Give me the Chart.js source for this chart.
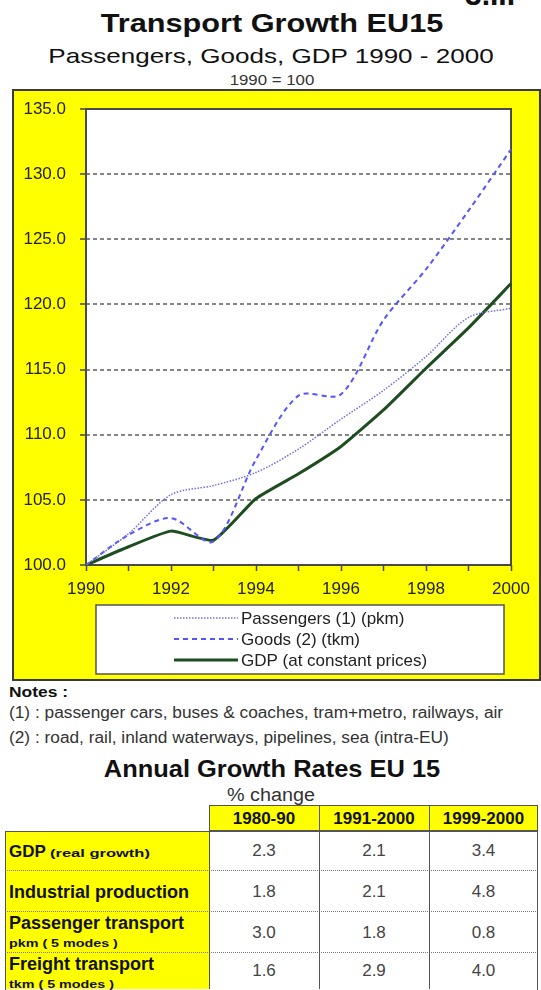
<!DOCTYPE html>
<html>
<head>
<meta charset="utf-8">
<script src="https://cdn.jsdelivr.net/npm/chart.js@4.4.1/dist/chart.umd.min.js"></script>
<style>
body { margin:0; width:541px; height:990px; background:#fff; position:relative; overflow:hidden;
  font-family:"Liberation Sans", Arial, sans-serif; color:#111; }
.t { position:absolute; white-space:nowrap; line-height:1; }
.c { width:600px; text-align:center; transform-origin:center; }
#frame { position:absolute; left:12px; top:89px; width:529px; height:592px; box-sizing:border-box;
  border:2px solid #3a3a3a; pointer-events:none; }
#chart { position:absolute; left:13px; top:90px; background:#ffff00; }
.cell { position:absolute; box-sizing:border-box; }
</style>
</head>
<body>
<div class="t" style="left:465px; top:-20px; font-size:30px; font-weight:bold;">3.III</div>
<div class="t c" style="left:-28px; top:10px; font-size:26px; font-weight:bold; transform:scaleX(1.18);">Transport Growth EU15</div>
<div class="t c" style="left:-29px; top:45px; font-size:21px; transform:scaleX(1.24);">Passengers, Goods, GDP 1990 - 2000</div>
<div class="t c" style="left:-28px; top:73px; font-size:14.5px; color:#333; transform:scaleX(1.16);">1990 = 100</div>

<canvas id="chart" width="527" height="590"></canvas>
<div id="frame"></div>

<div class="t" style="left:9px; top:685px; font-size:14.5px; font-weight:bold; transform-origin:left; transform:scaleX(1.2);">Notes :</div>
<div class="t" style="left:9px; top:705px; font-size:16px; color:#333; transform-origin:left; transform:scaleX(1.08);">(1) : passenger cars, buses &amp; coaches, tram+metro, railways, air</div>
<div class="t" style="left:9px; top:730px; font-size:16px; color:#333; transform-origin:left; transform:scaleX(1.08);">(2) : road, rail, inland waterways, pipelines, sea (intra-EU)</div>

<div class="t c" style="left:-28px; top:757px; font-size:24px; font-weight:bold; transform:scaleX(1.06);">Annual Growth Rates EU 15</div>
<div class="t c" style="left:-29px; top:786px; font-size:18px; color:#333; transform:scaleX(1.1);">% change</div>
<div id="table"></div>

<script>
// chart data
const years = ['1990', '1991', '1992', '1993', '1994', '1995', '1996', '1997', '1998', '1999', '2000'];
const passengers = [100.0, 102.4, 105.4, 106.1, 107.1, 108.9, 111.2, 113.4, 116.0, 119.0, 119.7];
const goods = [100.0, 102.3, 103.6, 101.8, 108.1, 113.0, 113.1, 118.8, 122.7, 127.2, 131.9];
const gdp = [100.0, 101.4, 102.6, 101.9, 105.1, 107.0, 109.1, 111.9, 115.1, 118.2, 121.6];
const yTicks = [100, 105, 110, 115, 120, 125, 130, 135];

// table data
const periods = ['1980-90', '1991-2000', '1999-2000'];
const indicators = ['GDP', 'Industrial production', 'Passenger transport', 'Freight transport'];
const indicatorNotes = ['(real growth)', '', 'pkm ( 5 modes )', 'tkm ( 5 modes )'];
const rate1980_90 = ['2.3', '1.8', '3.0', '1.6'];
const rate1991_2000 = ['2.1', '2.1', '1.8', '2.9'];
const rate1999_2000 = ['3.4', '4.8', '0.8', '4.0'];

const FONT = '"Liberation Sans", Arial, sans-serif';

// white plot area + frame
const plotFrame = {
  id: 'plotFrame',
  beforeDraw(chart) {
    const {ctx, chartArea: a} = chart;
    ctx.save();
    ctx.fillStyle = '#fff';
    ctx.fillRect(a.left, a.top, a.width, a.height);
    ctx.restore();
  },
  beforeDatasetsDraw(chart) {
    const {ctx, chartArea: a} = chart;
    ctx.save();
    ctx.strokeStyle = '#4a4a4a';
    ctx.lineWidth = 2;
    ctx.strokeRect(a.left, a.top, a.width, a.height);
    ctx.restore();
  }
};

// boxed legend under the plot, one line per series
const legendBox = {
  id: 'legendBox',
  afterDraw(chart) {
    const ctx = chart.ctx;
    ctx.save();
    ctx.fillStyle = '#fff';
    ctx.fillRect(83, 515, 408, 69);
    ctx.strokeStyle = '#555';
    ctx.lineWidth = 1.5;
    ctx.strokeRect(83, 515, 408, 69);
    chart.data.datasets.forEach((ds, i) => {
      const y = 528 + i * 21;
      ctx.beginPath();
      ctx.setLineDash(ds.borderDash || []);
      ctx.strokeStyle = ds.borderColor;
      ctx.lineWidth = ds.borderWidth;
      ctx.moveTo(161, y);
      ctx.lineTo(225, y);
      ctx.stroke();
      ctx.setLineDash([]);
      ctx.fillStyle = '#222';
      ctx.font = '17px ' + FONT;
      ctx.textBaseline = 'middle';
      ctx.fillText(ds.label, 228, y + 1);
    });
    ctx.restore();
  }
};

new Chart(document.getElementById('chart'), {
  type: 'line',
  data: {
    labels: years,
    datasets: [{
      label: 'Passengers (1) (pkm)',
      data: passengers,
      borderColor: '#6f6fe0',
      borderWidth: 1.5,
      borderDash: [1.5, 1.5],
      pointRadius: 0,
      tension: 0.3
    }, {
      label: 'Goods (2) (tkm)',
      data: goods,
      borderColor: '#5555ff',
      borderWidth: 2,
      borderDash: [5, 4],
      pointRadius: 0,
      tension: 0.3
    }, {
      label: 'GDP (at constant prices)',
      data: gdp,
      borderColor: '#1e4d20',
      borderWidth: 3,
      pointRadius: 0,
      tension: 0.15
    }]
  },
  options: {
    responsive: false,
    animation: false,
    devicePixelRatio: 1,
    layout: { padding: { left: 0, top: 19, right: 29, bottom: 85 } },
    plugins: { legend: { display: false }, tooltip: { enabled: false } },
    scales: {
      x: {
        afterFit(s) { s.height = 30; s.paddingLeft = 0; s.paddingRight = 0; },
        ticks: {
          autoSkip: false, maxRotation: 0, padding: 8,
          color: '#222', font: { family: FONT, size: 17 },
          callback: (v, i) => (i % 2 === 0 ? years[i] : '')
        },
        grid: { drawOnChartArea: false, tickLength: 6, tickColor: '#444', tickWidth: 1.5 },
        border: { display: false }
      },
      y: {
        min: 100, max: 135,
        afterFit(s) { s.width = 73; s.paddingTop = 0; s.paddingBottom = 0; },
        afterBuildTicks(s) { s.ticks = yTicks.map(v => ({ value: v })); },
        ticks: {
          padding: 14, color: '#222', font: { family: FONT, size: 17 },
          callback: v => v.toFixed(1)
        },
        grid: { color: '#858585', lineWidth: 2, tickLength: 6, tickColor: '#444', tickWidth: 1.5, tickBorderDash: [] },
        border: { display: false, dash: [4, 3] }
      }
    }
  },
  plugins: [plotFrame, legendBox]
});

// growth rate table
const tbl = document.getElementById('table');
function cell(x, y, w, h, css, html) {
  const d = document.createElement('div');
  d.className = 'cell';
  d.style.cssText = `left:${x}px;top:${y}px;width:${w}px;height:${h}px;` + css;
  d.innerHTML = html || '';
  tbl.appendChild(d);
}
const colX = [209, 319, 429, 538];
const rowY = [831, 871, 912, 953, 989];
const cols = [rate1980_90, rate1991_2000, rate1999_2000];

cell(5, rowY[0], 204, rowY[4] - rowY[0], 'background:#ffff00;');
cell(colX[0], 805, colX[3] - colX[0], 26, 'background:#ffff00;border:1.5px solid #555;');
periods.forEach((p, j) => {
  cell(colX[j], 805, colX[j + 1] - colX[j], 27,
    'display:flex;align-items:center;justify-content:center;font-weight:bold;font-size:17px;color:#111;', p);
});
indicators.forEach((name, i) => {
  const top = rowY[i], h = rowY[i + 1] - top;
  let html;
  if (i === 0) {
    html = `<div style="position:absolute;left:4px;top:12px;font-size:17px;font-weight:bold;line-height:1;">${name} ` +
      `<span style="display:inline-block;font-size:11px;transform-origin:left;transform:scaleX(1.5);">${indicatorNotes[i]}</span></div>`;
  } else if (indicatorNotes[i]) {
    html = `<div style="position:absolute;left:4px;top:2px;font-size:18px;font-weight:bold;line-height:1;">${name}</div>` +
      `<div style="position:absolute;left:4px;top:26px;font-size:11px;font-weight:bold;line-height:1;transform-origin:left;transform:scaleX(1.3);">${indicatorNotes[i]}</div>`;
  } else {
    html = `<div style="position:absolute;left:4px;top:12px;font-size:18px;font-weight:bold;line-height:1;">${name}</div>`;
  }
  cell(5, top, 204, h, '', html);
  cols.forEach((col, j) => {
    cell(colX[j], top, colX[j + 1] - colX[j], h,
      'display:flex;align-items:center;justify-content:center;font-size:17px;color:#444;', col[i]);
  });
  if (i > 0) cell(5, top - 1, 533, 0, 'border-top:1.5px dotted #777;');
});
cell(5, rowY[0], 533, rowY[4] - rowY[0] + 2, 'border:1.5px solid #555;');
colX.slice(0, 3).forEach(x => cell(x - 0.5, 805, 0, rowY[4] - 805, 'border-left:1.5px solid #555;'));
</script>
</body>
</html>
